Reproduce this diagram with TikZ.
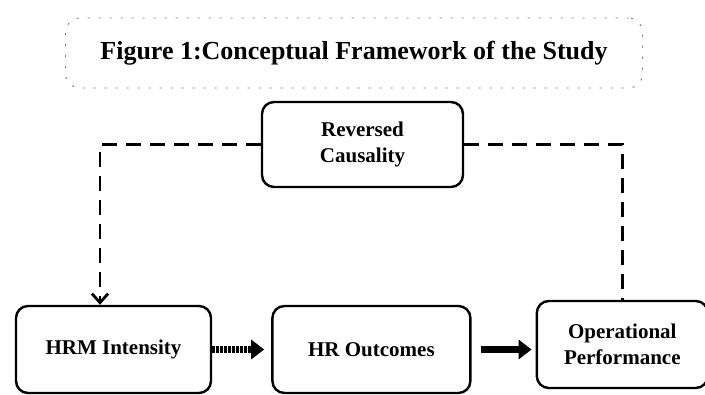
\documentclass[tikz,border=0pt]{standalone}
\usepackage{fontspec}
\setmainfont{Liberation Serif}
\usetikzlibrary{positioning,arrows.meta}

\begin{document}
\begin{tikzpicture}[x=1pt,y=-1pt]
  	\tikzstyle{box} = [rectangle,draw,line width=2.4pt,rounded corners=12pt,align=center,font=\fontsize{21}{26}\selectfont\bfseries,minimum height=87pt,inner sep=2pt]
  	\tikzstyle{caption} = [rectangle,draw=black!55,line width=0.9pt,dash pattern=on 2pt off 9pt,rounded corners=14pt,font=\fontsize{26}{30}\selectfont\bfseries]
  	\tikzstyle{link} = [line width=2.8pt,dash pattern=on 15pt off 9pt]
  	\tikzstyle{flow} = [line width=7pt,-{Triangle[length=13pt,width=19pt]}]
  	\tikzset{>={Straight Barb[length=9pt,width=16pt,line width=2.8pt]}}

	  \useasboundingbox (0,0) rectangle (705,395);

	  \node [caption, minimum width=577pt, minimum height=70pt] (title) at (354,53) {Figure 1:Conceptual Framework of the Study};

	  \node [box, minimum width=195pt] (hrm) at (113.5,349.5) {HRM Intensity};
	  \node [box, minimum width=198pt, right=59pt of hrm] (hro) {HR Outcomes};
	  \node [box, minimum width=171pt, right=64pt of hro, yshift=5pt] (op) {Operational\\Performance};
	  \node [box, minimum width=201pt, minimum height=85pt] (rc) at (362.5,144.5) {Reversed\\Causality};

		\draw [link,->] (rc.west) -| ([xshift=-13.5pt]hrm.north);
		\draw [link] (rc.east) -| (op.north);

		\draw [flow, dash pattern=on 3pt off 1pt, shorten >=7pt] (hrm.east) -- (hro.west);
		\draw [flow, shorten <=9pt, shorten >=4pt] (hro.east) -- (hro.east -| op.west);
  \end{tikzpicture}
\end{document}
